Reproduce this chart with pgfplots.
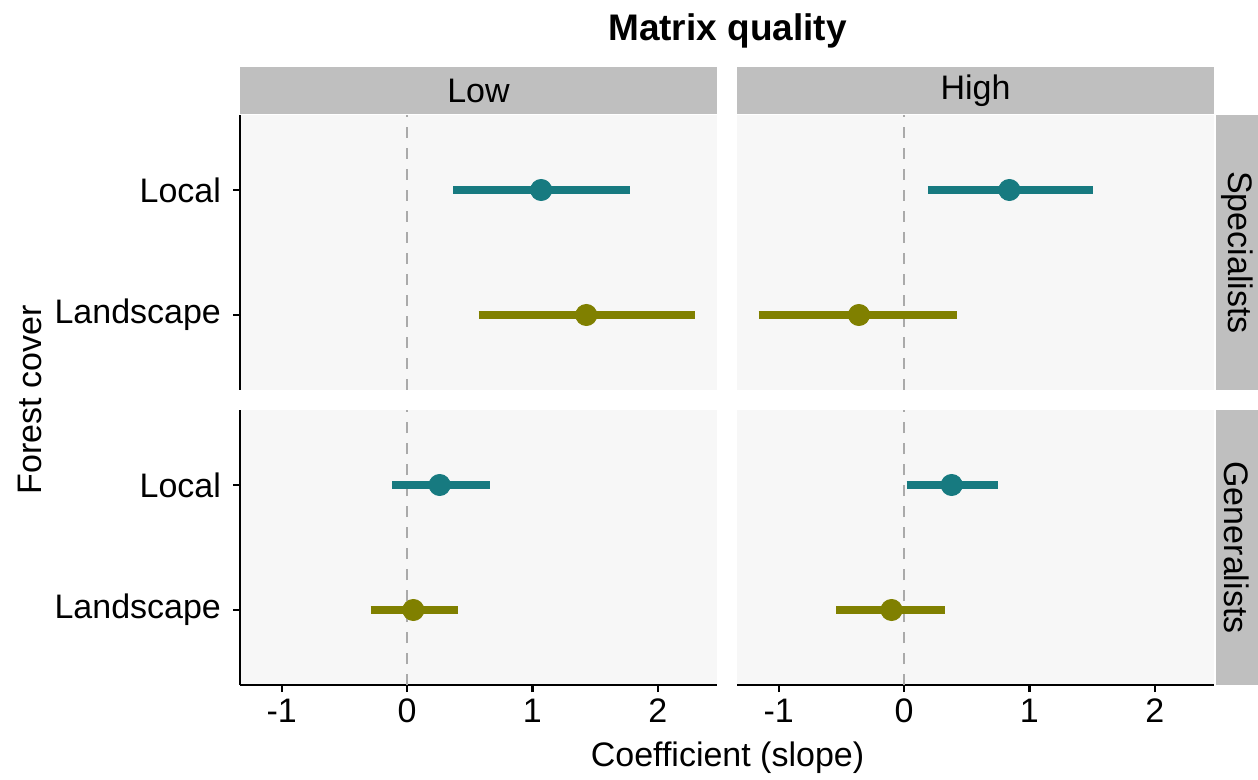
\documentclass[border=0pt]{standalone}
\usepackage{pgfplots}
\pgfplotsset{compat=1.18}
\usepackage{fontspec}
\setmainfont{Liberation Sans}
\definecolor{tealc}{RGB}{23,122,128}
\definecolor{olivec}{RGB}{128,128,0}
\definecolor{stripc}{RGB}{191,191,191}
\definecolor{panelc}{RGB}{247,247,247}
\definecolor{zeroc}{RGB}{170,170,170}
\newcommand{\txt}{\fontsize{17}{20}\selectfont}
\pgfplotsset{
 panel/.style={scale only axis, width=238.5pt, height=137.5pt,
   xmin=-1.333, xmax=2.473, ymin=0.4, ymax=2.6, anchor=south west,
   axis background/.style={fill=panelc},
   axis x line*=bottom, axis y line*=left,
   axis line style={-, line width=1.4pt, black},
   tick align=outside, major tick length=3.5pt,
   tick style={line width=1.2pt, black},
   xtick={-1,0,1,2}, ytick={1,2}, yticklabels={Landscape,Local},
   tick label style={font=\txt, text=black},
   yticklabel style={xshift=-2.5pt},
   /pgf/number format/assume math mode=true},
 zero/.style={zeroc, line width=1.2pt, dash pattern=on 5.5pt off 5pt},
 bar/.style={line width=4.2pt, line cap=butt},
 pt/.style={only marks, mark=*, mark size=5.3pt},
 notop/.style={x axis line style={draw=none}, xtick=\empty},
 noleft/.style={y axis line style={draw=none}, ytick=\empty},
}
\begin{document}
\begin{tikzpicture}
\useasboundingbox (0,0) rectangle (629pt,-390pt);
% strips
\fill[stripc] (120pt,-33.5pt) rectangle (358.5pt,-57pt);
\fill[stripc] (368.5pt,-33.5pt) rectangle (607pt,-57pt);
\fill[stripc] (608pt,-57.5pt) rectangle (629pt,-195pt);
\fill[stripc] (608pt,-205pt) rectangle (629pt,-342.5pt);
\node[font=\txt] at (239.25pt,-45.25pt) {Low};
\node[font=\txt] at (487.75pt,-45.25pt) {High};
\node[font=\txt, rotate=-90] at (618.5pt,-126.25pt) {Specialists};
\node[font=\txt, rotate=-90] at (618.5pt,-273.75pt) {Generalists};
% titles
\node[font=\fontsize{18.5}{22}\selectfont\bfseries] at (363.75pt,-15.5pt) {Matrix quality};
\node[font=\txt] at (363.75pt,-379pt) {Coefficient (slope)};
\node[font=\txt, rotate=90] at (15pt,-200pt) {Forest cover};
% top-left
\begin{axis}[panel, notop, at={(120pt,-195pt)}]
\addplot[zero] coordinates {(0,0.4) (0,2.6)};
\addplot[bar, tealc] coordinates {(0.37,2) (1.78,2)};
\addplot[pt, tealc] coordinates {(1.07,2)};
\addplot[bar, olivec] coordinates {(0.57,1) (2.30,1)};
\addplot[pt, olivec] coordinates {(1.43,1)};
\end{axis}
% top-right
\begin{axis}[panel, notop, noleft, at={(368.5pt,-195pt)}]
\addplot[zero] coordinates {(0,0.4) (0,2.6)};
\addplot[bar, tealc] coordinates {(0.19,2) (1.51,2)};
\addplot[pt, tealc] coordinates {(0.84,2)};
\addplot[bar, olivec] coordinates {(-1.16,1) (0.42,1)};
\addplot[pt, olivec] coordinates {(-0.36,1)};
\end{axis}
% bottom-left
\begin{axis}[panel, at={(120pt,-342.5pt)}]
\addplot[zero] coordinates {(0,0.4) (0,2.6)};
\addplot[bar, tealc] coordinates {(-0.12,2) (0.66,2)};
\addplot[pt, tealc] coordinates {(0.26,2)};
\addplot[bar, olivec] coordinates {(-0.29,1) (0.41,1)};
\addplot[pt, olivec] coordinates {(0.05,1)};
\end{axis}
% bottom-right
\begin{axis}[panel, noleft, at={(368.5pt,-342.5pt)}]
\addplot[zero] coordinates {(0,0.4) (0,2.6)};
\addplot[bar, tealc] coordinates {(0.02,2) (0.75,2)};
\addplot[pt, tealc] coordinates {(0.38,2)};
\addplot[bar, olivec] coordinates {(-0.54,1) (0.33,1)};
\addplot[pt, olivec] coordinates {(-0.10,1)};
\end{axis}
\end{tikzpicture}
\end{document}
